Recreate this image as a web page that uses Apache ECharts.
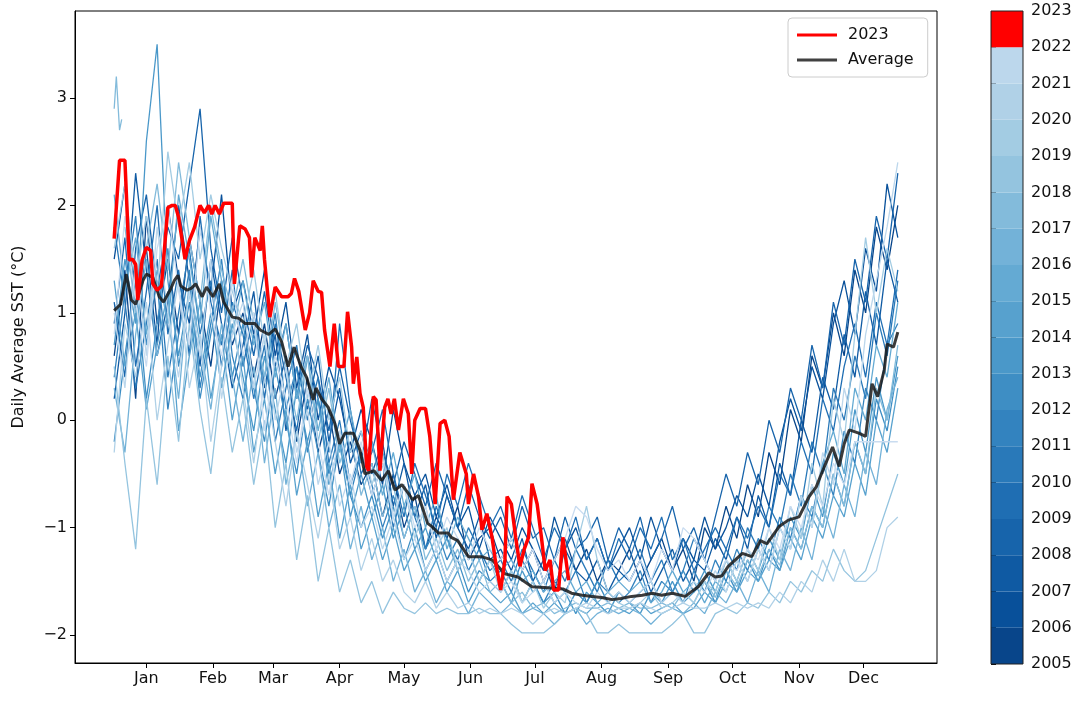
<!DOCTYPE html>
<html>
<head>
<meta charset="utf-8">
<title>Daily Average SST</title>
<script src="https://cdn.jsdelivr.net/npm/echarts@6/dist/echarts.min.js"></script>
<style>
  html, body { margin: 0; padding: 0; background: #fff; }
  #chart { width: 1088px; height: 703px; }
</style>
</head>
<body>
<div id="chart"></div>
<script>
// month ticks sit at mid-month (day of year)
const monthNames = ['Jan', 'Feb', 'Mar', 'Apr', 'May', 'Jun', 'Jul', 'Aug', 'Sep', 'Oct', 'Nov', 'Dec']
const monthTicks = [15, 46, 74, 105, 135, 166, 196, 227, 258, 288, 319, 349]
const sstTicks = [-2, -1, 0, 1, 2, 3]
const barYears = [2005, 2006, 2007, 2008, 2009, 2010, 2011, 2012, 2013, 2014, 2015, 2016, 2017, 2018, 2019, 2020, 2021, 2022, 2023]

// yearly lines read every 5 days
const sampleDays = [0, 5, 10, 15, 20, 25, 30, 35, 40, 45, 50, 55,
  60, 65, 70, 75, 80, 85, 90, 95, 100, 105, 110, 115,
  120, 125, 130, 135, 140, 145, 150, 155, 160, 165, 170, 175,
  180, 185, 190, 195, 200, 205, 210, 215, 220, 225, 230, 235,
  240, 245, 250, 255, 260, 265, 270, 275, 280, 285, 290, 295,
  300, 305, 310, 315, 320, 325, 330, 335, 340, 345, 350, 355, 360, 365]

const years = [2005, 2006, 2007, 2008, 2009, 2010, 2011, 2012, 2013, 2014, 2015, 2016, 2017, 2018, 2019, 2020, 2021, 2022]

const sst2005 = [0.6, 1.4, 0.2, 1.9, 0.9, 1.5, 0.8, 1.7, 1.1, 0.5, 1.3, 0.7,
  1.0, 0.4, 0.9, 0.2, 0.6, -0.2, 0.4, -0.3, 0.1, -0.5, -0.2, -0.6,
  -0.4, -0.9, -0.5, -1.0, -0.7, -1.2, -0.9, -1.1, -0.8, -1.3, -1.1, -1.0,
  -1.3, -1.1, -1.4, -1.2, -1.5, -1.3, -1.1, -1.4, -1.2, -1.5, -1.3, -1.4,
  -1.2, -1.5, -1.3, -1.1, -1.4, -1.2, -1.5, -1.0, -1.2, -0.8, -1.1, -0.6,
  -0.9, -0.3, -0.6, 0.1, -0.2, 0.6, 0.3, 1.0, 0.6, 1.4, 1.0, 1.8, 1.4, 2.0]
const sst2006 = [1.5, 2.2, 1.0, 1.6, 0.7, 2.0, 1.3, 0.9, 1.8, 1.2, 2.1, 1.0,
  1.3, 0.8, 1.4, 0.6, 1.1, 0.3, 0.8, 0.0, 0.5, 0.2, -0.3, 0.1,
  -0.2, -0.6, 0.1, -0.4, -0.7, -0.5, -0.9, -0.6, -1.0, -0.8, -1.2, -0.9,
  -1.1, -1.3, -1.0, -1.2, -1.4, -0.9, -1.2, -1.0, -1.3, -1.1, -1.4, -1.2,
  -1.0, -1.3, -0.9, -1.2, -1.4, -1.1, -1.3, -0.9, -1.2, -1.0, -0.7, -0.9,
  -0.5, -0.8, -0.2, 0.2, -0.1, 0.5, 0.2, 0.9, 1.3, 0.8, 1.6, 1.2, 2.2, 1.7]
const sst2007 = [0.2, 1.0, 2.3, 1.4, 0.6, 1.1, 2.0, 1.3, 0.5, 1.5, 0.9, 0.3,
  0.7, 1.2, 0.3, 0.8, -0.1, 0.5, 0.1, 0.6, -0.2, 0.3, -0.4, -0.1,
  -0.5, -0.2, -0.8, -0.4, -0.9, -0.6, -1.1, -0.7, -1.0, -1.2, -0.9, -1.3,
  -1.2, -1.4, -1.1, -1.5, -1.3, -1.6, -1.2, -1.4, -1.5, -1.3, -1.6, -1.4,
  -1.5, -1.3, -1.6, -1.4, -1.2, -1.5, -1.3, -1.4, -1.1, -1.3, -0.9, -1.2,
  -0.7, -1.0, -0.4, -0.7, 0.0, -0.3, 0.4, 0.1, 0.8, 0.4, 1.2, 0.7, 1.5, 1.1]
const sst2008 = [1.1, 0.4, 1.6, 2.1, 1.2, 1.8, 1.5, 2.2, 2.9, 1.6, 1.0, 1.7,
  1.1, 0.6, 1.2, 0.5, 0.9, 0.2, 0.7, 0.4, -0.1, 0.5, 0.0, -0.4,
  0.2, -0.3, -0.6, -0.2, -0.5, -0.8, -0.4, -0.7, -1.0, -0.6, -0.9, -1.1,
  -0.9, -1.2, -0.8, -1.1, -1.0, -1.3, -0.9, -1.2, -1.1, -0.9, -1.3, -1.0,
  -1.2, -0.9, -1.3, -1.1, -0.8, -1.2, -1.0, -1.3, -0.9, -0.5, -0.8, -0.3,
  -0.6, 0.0, -0.3, 0.3, 0.0, 0.7, 0.3, 1.1, 0.7, 1.5, 1.1, 1.9, 1.5, 2.3]
const sst2009 = [0.9, 1.7, 0.5, 1.2, 2.0, 0.8, 1.4, 0.6, 1.9, 1.1, 0.7, 1.4,
  0.5, 1.0, 0.2, 0.9, 0.4, -0.1, 0.6, 0.2, -0.3, 0.9, 0.1, -0.5,
  -0.3, 0.1, -0.5, -0.9, -0.4, -0.7, -1.0, -0.5, -0.8, -0.4, -0.7, -1.0,
  -0.8, -1.1, -0.7, -1.0, -1.3, -1.0, -1.2, -0.9, -1.3, -1.1, -1.4, -1.1,
  -1.3, -1.0, -1.2, -0.9, -1.3, -1.1, -1.4, -1.2, -1.0, -1.2, -0.9, -1.1,
  -0.8, -1.0, -0.5, -0.7, -0.2, -0.5, 0.2, -0.1, 0.5, 0.9, 0.4, 1.1, 0.7, 1.4]
const sst2010 = [1.8, 1.1, 0.3, 0.9, 1.5, 0.4, 1.0, 1.6, 0.8, 1.3, 0.5, 1.1,
  0.8, 0.2, 0.7, -0.2, 0.3, 0.7, 0.0, 0.4, -0.4, 0.0, -0.6, -0.3,
  -0.7, -0.4, -1.0, -0.6, -0.9, -1.2, -0.8, -1.1, -1.3, -1.0, -1.2, -1.4,
  -1.3, -1.5, -1.2, -1.4, -1.6, -1.3, -1.5, -1.2, -1.4, -1.6, -1.3, -1.5,
  -1.4, -1.2, -1.5, -1.3, -1.6, -1.4, -1.1, -1.3, -1.5, -1.2, -1.4, -1.0,
  -1.2, -0.8, -1.0, -0.5, -0.8, -0.2, -0.5, 0.3, 0.0, 0.6, 0.2, 1.0, 0.6, 1.3]
const sst2011 = [0.4, 1.2, 1.9, 0.7, 1.3, 0.1, 0.8, 1.4, 0.3, 0.9, 1.5, 0.6,
  0.2, 0.8, 0.4, 1.0, 0.1, 0.5, -0.3, 0.2, -0.5, -0.1, -0.7, -0.3,
  -0.6, -1.0, -0.7, -1.1, -0.8, -1.2, -1.0, -1.3, -1.1, -1.4, -1.2, -1.5,
  -1.4, -1.6, -1.3, -1.5, -1.7, -1.5, -1.6, -1.4, -1.7, -1.5, -1.6, -1.7,
  -1.6, -1.4, -1.7, -1.5, -1.6, -1.7, -1.4, -1.6, -1.3, -1.5, -1.2, -1.4,
  -1.1, -1.3, -0.9, -1.1, -0.7, -0.9, -0.4, -0.7, -0.1, -0.4, 0.3, 0.0, 0.7, 0.9]
const sst2012 = [-0.2, 0.6, 1.3, 0.2, 0.9, 1.6, 0.5, 1.1, 0.2, 0.8, 1.3, 0.4,
  0.9, 0.3, -0.2, 0.5, 0.0, -0.5, 0.2, -0.3, -0.8, -0.2, -0.7, -1.0,
  -0.7, -1.1, -0.8, -1.3, -1.0, -1.4, -1.2, -1.5, -1.3, -1.6, -1.4, -1.5,
  -1.6, -1.4, -1.7, -1.5, -1.7, -1.6, -1.8, -1.6, -1.7, -1.5, -1.7, -1.6,
  -1.7, -1.6, -1.5, -1.7, -1.6, -1.4, -1.6, -1.5, -1.7, -1.4, -1.6, -1.3,
  -1.5, -1.2, -1.4, -1.0, -1.2, -0.8, -1.0, -0.5, -0.8, -0.2, -0.5, 0.2, -0.1, 0.5]
const sst2013 = [0.7, 1.5, 0.9, 2.6, 3.5, 1.3, 0.6, 1.2, 0.4, 1.0, 0.3, 0.9,
  0.4, -0.1, 0.6, 0.1, -0.4, 0.3, -0.2, 0.2, -0.6, -0.2, -0.9, -0.5,
  -0.9, -0.6, -1.1, -0.8, -1.2, -1.0, -1.3, -1.1, -1.4, -1.2, -1.5, -1.3,
  -1.5, -1.7, -1.4, -1.6, -1.5, -1.7, -1.6, -1.8, -1.6, -1.7, -1.8, -1.6,
  -1.7, -1.8, -1.6, -1.7, -1.5, -1.7, -1.6, -1.4, -1.6, -1.3, -1.5, -1.2,
  -1.4, -1.1, -1.3, -0.9, -1.1, -0.6, -0.9, -0.3, -0.6, 0.1, -0.3, 0.4, 0.0, 0.6]
const sst2014 = [1.3, 0.5, 1.0, 0.1, 0.7, 1.2, -0.1, 0.6, 1.1, 0.2, 0.8, 0.0,
  0.6, -0.3, 0.2, -0.5, 0.1, -0.7, -0.2, -0.9, -0.4, -1.1, -0.6, -1.2,
  -0.9, -1.3, -1.0, -1.4, -1.2, -1.5, -1.3, -1.6, -1.4, -1.7, -1.5, -1.6,
  -1.7, -1.6, -1.8, -1.7, -1.8, -1.7, -1.8, -1.75, -1.8, -1.7, -1.8, -1.75,
  -1.8, -1.7, -1.8, -1.75, -1.7, -1.8, -1.75, -1.6, -1.7, -1.5, -1.6, -1.4,
  -1.5, -1.3, -1.4, -1.1, -1.3, -0.9, -1.1, -0.7, -0.9, -0.4, -0.7, 0.0, -0.3, 0.3]
const sst2015 = [2.1, 1.2, 1.7, 0.8, 1.4, 0.9, 2.1, 1.5, 0.9, 1.9, 1.3, 0.8,
  1.3, 0.7, 1.1, 0.4, 0.9, 0.2, 0.6, -0.1, 0.4, -0.3, 0.1, -0.4,
  -0.2, -0.7, -0.3, -0.8, -0.5, -1.0, -0.7, -1.2, -0.9, -1.1, -1.3, -1.2,
  -1.4, -1.3, -1.5, -1.4, -1.6, -1.5, -1.4, -1.6, -1.5, -1.7, -1.6, -1.5,
  -1.6, -1.5, -1.7, -1.6, -1.4, -1.6, -1.5, -1.7, -1.5, -1.6, -1.3, -1.5,
  -1.2, -1.4, -1.0, -1.2, -0.7, -1.0, -0.4, -0.1, -0.5, 0.3, 0.0, 0.7, 0.4, 1.1]
const sst2016 = [0.3, -0.3, 0.8, 1.5, 0.6, 1.0, 0.2, 1.3, 0.7, 0.1, 0.9, 0.4,
  -0.2, 0.5, -0.4, 0.3, -0.6, -0.1, -0.8, -0.3, -1.0, -0.6, -1.2, -0.8,
  -1.3, -1.0, -1.5, -1.2, -1.6, -1.4, -1.7, -1.5, -1.6, -1.8, -1.6, -1.7,
  -1.8, -1.7, -1.8, -1.75, -1.8, -1.9, -1.8, -1.75, -1.9, -1.8, -1.75, -1.8,
  -1.75, -1.8, -1.9, -1.8, -1.75, -1.8, -1.7, -1.8, -1.6, -1.7, -1.5, -1.7,
  -1.4, -1.6, -1.2, -1.4, -1.0, -1.3, -0.8, -1.1, -0.6, -0.9, -0.3, -0.6, 0.1, 0.4]
// 2017 opens with a short separate piece, then a gap
const start2017Days = [0, 1, 2.5, 3.5]
const start2017 = [2.9, 3.2, 2.7, 2.8]
const sst2017 = [null, 1.8, 1.0, 1.6, 2.2, 1.4, 2.4, 1.7, 1.1, 2.0, 1.4, 1.0,
  1.5, 0.9, 0.4, 1.1, 0.5, 0.0, 0.6, -0.2, 0.3, -0.4, -0.1, -0.7,
  -0.4, -0.9, -0.6, -1.1, -0.8, -1.3, -1.1, -1.4, -1.2, -1.5, -1.3, -1.6,
  -1.5, -1.7, -1.6, -1.75, -1.7, -1.8, -1.75, -1.7, -1.75, -1.75, -1.7, -1.75,
  -1.7, -1.75, -1.75, -1.7, -1.75, -1.6, -1.7, -1.5, -1.65, -1.4, -1.55, -1.3,
  -1.45, -1.2, -1.35, -1.0, -1.2, -0.8, -1.0, -0.5, -0.8, -0.2, -0.5, 0.3, 0.0, 0.7]
const sst2018 = [0.5, -0.4, -1.2, 0.2, -0.6, 0.6, -0.2, 0.9, 0.1, -0.5, 0.4, -0.3,
  0.2, -0.6, 0.0, -1.0, -0.4, -1.3, -0.7, -1.5, -1.0, -1.6, -1.3, -1.7,
  -1.5, -1.8, -1.6, -1.75, -1.8, -1.7, -1.8, -1.75, -1.8, -1.8, -1.75, -1.8,
  -1.8, -1.9, -1.98, -1.98, -1.98, -1.9, -1.8, -1.75, -1.8, -1.98, -1.98, -1.9,
  -1.98, -1.98, -1.98, -1.98, -1.9, -1.8, -1.98, -1.98, -1.8, -1.75, -1.8, -1.7,
  -1.75, -1.6, -1.7, -1.5, -1.6, -1.4, -1.5, -1.2, -1.4, -1.5, -1.4, -1.1, -0.8, -0.5]
const sst2019 = [1.6, 2.2, 1.3, 1.9, 1.2, 2.5, 1.8, 2.4, 1.5, 2.1, 1.6, 1.2,
  0.9, 1.4, 0.7, 1.2, 0.5, 0.9, 0.2, 0.7, 0.0, 0.4, -0.3, -0.1,
  -0.6, -0.3, -0.9, -0.6, -1.1, -0.8, -1.2, -1.0, -1.4, -1.2, -1.5, -1.3,
  -1.6, -1.4, -1.7, -1.5, -1.75, -1.6, -1.7, -1.2, -0.8, -1.3, -1.6, -1.7,
  -1.75, -1.7, -1.6, -1.75, -1.7, -1.6, -1.7, -1.5, -1.6, -1.3, -1.5, -1.2,
  -1.4, -1.0, -1.3, -0.8, -1.1, -0.4, -0.8, 0.2, -0.2, 0.8, 1.7, 1.0, 1.6, 1.2]
const sst2020 = [-0.3, 0.9, 0.4, 1.1, 0.0, 0.7, 1.3, 0.3, 0.8, -0.2, 0.5, 1.0,
  0.3, -0.4, 0.4, -0.2, -0.8, -0.1, -0.6, -1.1, -0.5, -1.2, -0.9, -1.4,
  -1.1, -1.5, -1.3, -1.6, -1.7, -1.5, -1.75, -1.6, -1.75, -1.7, -1.8, -1.75,
  -1.8, -1.75, -1.8, -1.9, -1.8, -1.75, -1.8, -1.75, -1.7, -1.75, -1.8, -1.75,
  -1.75, -1.7, -1.75, -1.8, -1.75, -1.7, -1.75, -1.75, -1.7, -1.75, -1.7, -1.75,
  -1.7, -1.75, -1.6, -1.7, -1.5, -1.6, -1.3, -1.5, -1.2, -1.5, -1.5, -1.4, -1.0, -0.9]
const sst2021 = [1.0, 0.3, 1.5, 0.6, 1.8, 1.0, 0.4, 1.2, 0.6, 1.5, 0.2, 0.8,
  1.1, 0.3, 0.8, 0.0, 0.5, -0.3, 0.1, -0.6, -0.2, -0.8, -0.5, -1.0,
  -0.8, -1.2, -0.9, -1.3, -1.1, -1.4, -1.2, -1.5, -1.3, -1.4, -1.6, -1.5,
  -1.6, -1.5, -1.7, -1.6, -1.5, -1.7, -1.6, -1.7, -1.75, -1.6, -1.7, -1.6,
  -1.7, -1.6, -1.5, -1.7, -1.6, -1.7, -1.5, -1.6, -1.4, -1.6, -1.3, -1.5,
  -1.2, -1.4, -1.0, -1.2, -0.7, -1.0, -0.3, -0.6, 0.3, -0.1, 0.8, 1.3, 1.8, 2.4]
const sst2022 = [0.8, 1.9, 1.1, 0.5, 1.6, 2.0, 1.2, 0.7, 1.8, 1.0, 0.6, 1.3,
  0.6, 1.0, -0.1, 0.6, 0.2, -0.4, 0.3, -0.2, -0.7, -0.1, -0.6, -0.2,
  -0.7, -0.4, -0.9, -0.6, -1.0, -0.8, -1.2, -0.9, -1.1, -1.3, -1.0, -1.2,
  -1.3, -1.1, -1.4, -1.2, -1.5, -1.3, -1.1, -0.8, -0.9, -1.2, -1.4, -1.3,
  -1.5, -1.3, -1.5, -1.2, -1.4, -1.0, -1.1, -1.3, -1.5, -1.3, -1.4, -1.2,
  -1.3, -1.0, -1.2, -0.8, -1.0, -0.6, -0.8, -0.4, -0.6, -0.2, -0.2, -0.2, -0.2, -0.2]
const yearValues = [sst2005, sst2006, sst2007, sst2008, sst2009, sst2010, sst2011, sst2012, sst2013,
  sst2014, sst2015, sst2016, sst2017, sst2018, sst2019, sst2020, sst2021, sst2022]

// 2023 so far
const days2023 = [0, 2.5, 5, 7, 8.5, 10, 11, 13, 15, 17, 18, 20, 22, 25, 27, 28.5, 30, 33, 35, 37.5,
  40, 42, 44, 45.5, 47, 49, 51, 55, 56, 58.5, 61, 63, 64, 65.5, 68, 69, 70, 72.5, 75, 78,
  81, 82.5, 84, 86, 89, 91, 92.7, 95, 96.6, 98, 100.5, 102.5, 104.4, 107, 108.7, 110.6, 111.4, 113, 114.5, 116,
  117.6, 118.5, 120.7, 122, 123.8, 126, 127.5, 129, 130.5, 132.4, 134.7, 137, 138.6, 140, 142.5, 145, 147, 149.5, 151.8, 154,
  156, 158, 161, 164, 165, 167.4, 169.7, 171.3, 173.6, 176, 177.5, 180, 182, 183, 185, 187, 189, 191, 193, 194.6,
  197, 199, 200.8, 203, 204.7, 207, 209, 211.7]
const sst2023 = [1.69, 2.42, 2.42, 1.49, 1.5, 1.45, 1.12, 1.49, 1.61, 1.58, 1.27, 1.21, 1.25, 1.98, 2.0, 2.0, 1.89, 1.5, 1.67, 1.8,
  2.0, 1.93, 2.0, 1.92, 2.0, 1.92, 2.02, 2.02, 1.27, 1.81, 1.78, 1.7, 1.33, 1.7, 1.58, 1.81, 1.5, 0.96, 1.24, 1.15,
  1.15, 1.18, 1.32, 1.2, 0.84, 1.0, 1.3, 1.2, 1.19, 0.84, 0.5, 0.9, 0.5, 0.5, 1.01, 0.68, 0.34, 0.59, 0.25, 0.12,
  -0.43, -0.47, 0.22, 0.19, -0.47, 0.12, 0.2, 0.06, 0.2, -0.09, 0.2, 0.06, -0.5, 0.0, 0.11, 0.11, -0.15, -0.78, -0.03, 0.0,
  -0.15, -0.74, -0.3, -0.5, -0.78, -0.5, -0.71, -1.02, -0.87, -1.09, -1.3, -1.58, -1.3, -0.71, -0.78, -1.09, -1.36, -1.2, -1.09, -0.59,
  -0.78, -1.09, -1.4, -1.3, -1.58, -1.58, -1.09, -1.49]

// multi-year average
const avgDays = [0, 3, 5.6, 8, 10, 13.4, 15, 18, 21, 23, 26, 28, 29.7, 31, 34, 36, 38, 41, 43, 46,
  49, 51, 55, 58, 61, 65.5, 68, 72, 75, 78, 81, 83.8, 87, 89.6, 92.7, 94, 96.6, 99.7, 102.8, 105,
  107.5, 111.4, 114.5, 116.8, 121, 124.6, 127.7, 130.8, 134, 137, 139, 141.7, 146, 148, 151, 155.6, 157, 160, 165, 171,
  176, 182, 188, 194.6, 202, 209, 213, 218, 222.6, 227, 232, 236, 241, 246, 250.6, 255, 260, 266, 272, 277,
  280, 283, 286, 292.6, 297, 301, 304, 309.7, 314, 319, 323.7, 327, 330, 334.6, 337.7, 340, 342.4, 346.8, 350, 353,
  355.6, 358.7, 360, 363, 365]
const sstAvg = [1.02, 1.08, 1.36, 1.12, 1.08, 1.3, 1.36, 1.33, 1.15, 1.1, 1.21, 1.3, 1.35, 1.25, 1.21, 1.23, 1.27, 1.15, 1.24, 1.15,
  1.27, 1.1, 0.96, 0.95, 0.9, 0.9, 0.84, 0.8, 0.85, 0.73, 0.5, 0.68, 0.5, 0.4, 0.19, 0.3, 0.2, 0.12, -0.03, -0.22,
  -0.12, -0.12, -0.28, -0.5, -0.47, -0.56, -0.47, -0.65, -0.6, -0.68, -0.74, -0.7, -0.96, -0.99, -1.05, -1.05, -1.09, -1.12, -1.27, -1.27,
  -1.3, -1.43, -1.46, -1.55, -1.56, -1.57, -1.61, -1.63, -1.64, -1.65, -1.67, -1.66, -1.64, -1.63, -1.61, -1.63, -1.61, -1.64, -1.55, -1.42,
  -1.46, -1.45, -1.36, -1.24, -1.27, -1.12, -1.15, -0.99, -0.93, -0.9, -0.71, -0.62, -0.47, -0.25, -0.43, -0.22, -0.09, -0.12, -0.15, 0.34,
  0.22, 0.47, 0.71, 0.68, 0.82]

// matplotlib "Blues" colour stops
const bluesStops = [
  [0.25, [198, 219, 239]], [0.375, [158, 202, 225]], [0.5, [107, 174, 214]],
  [0.625, [66, 146, 198]], [0.75, [33, 113, 181]], [0.875, [8, 81, 156]], [1.0, [8, 48, 107]]
]
function blues(t) {
  for (let i = 1; i < bluesStops.length; i++) {
    if (t <= bluesStops[i][0]) {
      const a = bluesStops[i - 1]
      const b = bluesStops[i]
      const f = (t - a[0]) / (b[0] - a[0])
      const c = a[1].map((v, k) => Math.round(v + (b[1][k] - v) * f))
      return 'rgb(' + c.join(',') + ')'
    }
  }
  return 'rgb(8,48,107)'
}
const yearColor = (i) => blues(0.92 - i * 0.04)

const font = 'DejaVu Sans'
const minus = (v) => (v < 0 ? '\u2212' + Math.abs(v) : String(v))

const series = []
years.forEach((y, i) => {
  let data = yearValues[i].map((v, k) => [sampleDays[k], v])
  if (y === 2017) {
    data = start2017Days.map((d, k) => [d, start2017[k]]).concat(data)
  }
  series.push({
    name: String(y),
    type: 'line',
    data: data,
    symbol: 'none',
    connectNulls: false,
    lineStyle: { color: yearColor(i), width: 1.3 },
    itemStyle: { color: yearColor(i) },
    z: 2
  })
})
series.push({
  name: 'Average',
  type: 'line',
  data: avgDays.map((d, k) => [d, sstAvg[k]]),
  symbol: 'none',
  lineStyle: { color: 'rgba(25,25,25,0.85)', width: 3 },
  itemStyle: { color: 'rgba(60,60,60,1)' },
  z: 3
})
series.push({
  name: '2023',
  type: 'line',
  data: days2023.map((d, k) => [d, sst2023[k]]),
  symbol: 'none',
  lineStyle: { color: '#ff0000', width: 3.5 },
  itemStyle: { color: '#ff0000' },
  z: 4
})

// colour bar: one band per year, red band for 2023
const bandData = barYears.slice(0, -1).map((y, i) => ({
  value: [0, y],
  itemStyle: { color: y === 2022 ? '#ff0000' : blues(0.92 - i * 0.04) }
}))
series.push({
  type: 'custom',
  xAxisIndex: 1,
  yAxisIndex: 1,
  data: bandData,
  renderItem: function (params, api) {
    const y0 = api.value(1)
    const p0 = api.coord([0, y0])
    const p1 = api.coord([1, y0 + 1])
    return {
      type: 'rect',
      shape: { x: p0[0], y: p1[1], width: p1[0] - p0[0], height: p0[1] - p1[1] },
      style: { fill: api.visual('color') }
    }
  },
  z: 2
})
series.push({
  type: 'custom',
  xAxisIndex: 1,
  yAxisIndex: 1,
  data: [[0, barYears[0]]],
  renderItem: function (params, api) {
    const p0 = api.coord([0, barYears[0]])
    const p1 = api.coord([1, barYears[barYears.length - 1]])
    return {
      type: 'rect',
      shape: { x: p0[0], y: p1[1], width: p1[0] - p0[0], height: p0[1] - p1[1] },
      style: { fill: 'none', stroke: '#222', lineWidth: 1 }
    }
  },
  z: 3
})

const chart = echarts.init(document.getElementById('chart'))
chart.setOption({
  animation: false,
  backgroundColor: '#fff',
  textStyle: { fontFamily: font },
  grid: [
    { left: 75, right: 151, top: 11, bottom: 40, show: true, borderColor: '#000', borderWidth: 1, backgroundColor: 'transparent' },
    { left: 991, right: 65, top: 11, bottom: 39 }
  ],
  legend: {
    data: [
      { name: '2023', icon: 'rect', itemStyle: { color: '#ff0000' } },
      { name: 'Average', icon: 'rect', itemStyle: { color: 'rgb(65,65,65)' } }
    ],
    orient: 'vertical',
    left: 788,
    top: 18,
    padding: [9, 14, 9, 9],
    itemGap: 9,
    itemWidth: 40,
    itemHeight: 3,
    borderColor: '#ccc',
    borderWidth: 1,
    borderRadius: 4,
    backgroundColor: 'rgba(255,255,255,0.8)',
    textStyle: { fontFamily: font, fontSize: 16, color: '#111', padding: [0, 0, 0, 6] }
  },
  xAxis: [
    {
      type: 'value',
      min: -18.25,
      max: 383.25,
      axisLine: { show: true, onZero: false, lineStyle: { color: '#000', width: 1 } },
      axisTick: { show: true, inside: false, length: 5, customValues: monthTicks, lineStyle: { color: '#000' } },
      axisLabel: {
        customValues: monthTicks,
        margin: 8,
        fontFamily: font,
        fontSize: 16,
        color: '#111',
        formatter: (v) => monthNames[monthTicks.indexOf(v)]
      },
      splitLine: { show: false }
    },
    { gridIndex: 1, type: 'value', min: 0, max: 1, show: false }
  ],
  yAxis: [
    {
      type: 'value',
      min: -2.26,
      max: 3.81,
      name: 'Daily Average SST (°C)',
      nameLocation: 'middle',
      nameGap: 48,
      nameTextStyle: { fontFamily: font, fontSize: 16, color: '#111' },
      axisLine: { show: true, onZero: false, lineStyle: { color: '#000', width: 1 } },
      axisTick: { show: true, inside: false, length: 5, customValues: sstTicks, lineStyle: { color: '#000' } },
      axisLabel: {
        customValues: sstTicks,
        margin: 8,
        fontFamily: font,
        fontSize: 16,
        color: '#111',
        formatter: minus
      },
      splitLine: { show: false }
    },
    {
      gridIndex: 1,
      type: 'value',
      position: 'right',
      min: 2005,
      max: 2023,
      interval: 1,
      axisLine: { show: false },
      axisTick: { show: true, inside: false, length: 5, lineStyle: { color: '#000' } },
      axisLabel: { margin: 8, fontFamily: font, fontSize: 16, color: '#111', formatter: (v) => String(v) },
      splitLine: { show: false }
    }
  ],
  series: series
})
</script>
</body>
</html>
